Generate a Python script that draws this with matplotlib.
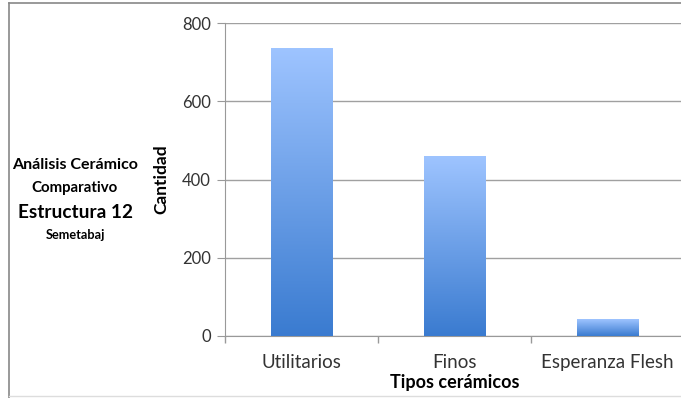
import matplotlib
matplotlib.use("Agg")
import matplotlib.pyplot as plt
import numpy as np
from matplotlib.lines import Line2D
from matplotlib.colors import LinearSegmentedColormap

categories = ["Utilitarios", "Finos", "Esperanza Flesh"]
values = [736, 458, 43]
yticks = [0, 200, 400, 600, 800]

plt.rcParams['font.family'] = ['Lato', 'DejaVu Sans']

fig = plt.figure(figsize=(6.81, 3.98), dpi=100)
ax = fig.add_axes([225/681, 1-336/398, 459/681, 313/398])

x = np.arange(len(categories))
bars = ax.bar(x, values, width=0.4, color='none', edgecolor='none', zorder=3)

grad = np.linspace(0, 1, 256).reshape(-1, 1)
cmap = LinearSegmentedColormap.from_list('g', ['#3A7BD0', '#9EC4FF'])
for b in bars:
    x0, y0 = b.get_x(), b.get_y()
    w, h = b.get_width(), b.get_height()
    ax.imshow(grad, extent=[x0, x0+w, y0, y0+h], origin='lower', cmap=cmap,
              aspect='auto', zorder=3)

ax.set_xlim(-0.5, 2.5)
ax.set_ylim(0, 800)
ax.set_yticks(yticks)
ax.set_xticks(x)
ax.set_xticklabels(categories)
ax.set_xticks([-0.5, 0.5, 1.5, 2.5], minor=True)
ax.tick_params(axis='x', which='major', length=0, pad=13, labelsize=13.5, labelcolor='#333333')
ax.tick_params(axis='x', which='minor', length=5, color='#999999', width=1)
ax.tick_params(axis='y', length=6, color='#999999', labelsize=12, labelcolor='#333333', pad=4)
ax.grid(axis='y', color='#A0A0A0', linewidth=1, zorder=0)
for s in ['top', 'right']:
    ax.spines[s].set_visible(False)
ax.spines['left'].set_color('#999999')
ax.spines['bottom'].set_color('#999999')

ax.set_ylabel('Cantidad', fontsize=12.5, fontweight='bold', labelpad=9)
ax.set_xlabel('Tipos cerámicos', fontsize=13, fontweight='bold', labelpad=2)

fig.text(75/681, 1-165/398, 'Análisis Cerámico', ha='center', va='center', fontsize=11.5, fontweight='bold')
fig.text(75/681, 1-188/398, 'Comparativo', ha='center', va='center', fontsize=10.8, fontweight='bold')
fig.text(75/681, 1-212/398, 'Estructura 12', ha='center', va='center', fontsize=13.7, fontweight='bold')
fig.text(75/681, 1-235/398, 'Semetabaj', ha='center', va='center', fontsize=9.2, fontweight='bold')

# outer frame
fig.add_artist(Line2D([9/681, 9/681], [0, 1-3/398], transform=fig.transFigure, color='#888888', lw=1.2))
fig.add_artist(Line2D([9/681, 1], [1-3/398, 1-3/398], transform=fig.transFigure, color='#888888', lw=1.2))
fig.add_artist(Line2D([9/681, 1], [1-396/398, 1-396/398], transform=fig.transFigure, color='#DDDDDD', lw=1))

fig.savefig('out.png', dpi=100)
